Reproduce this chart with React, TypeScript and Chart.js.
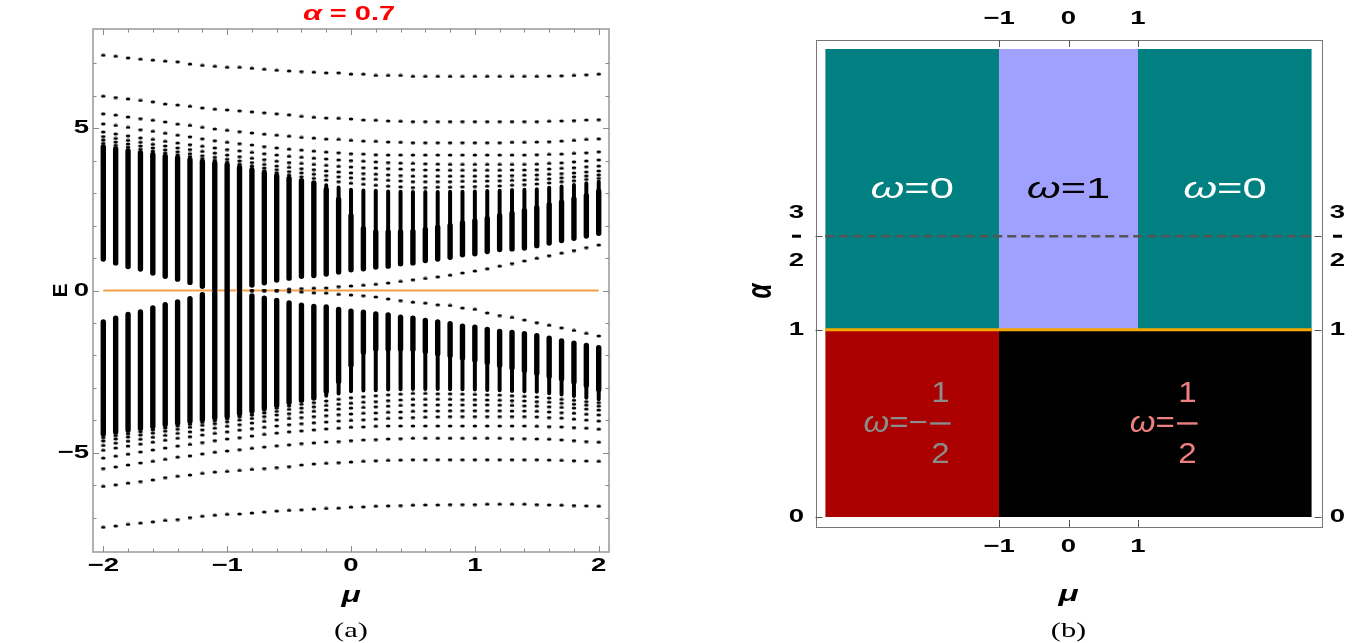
import React, { useEffect, useRef } from "react";
import { Chart, registerables } from "chart.js";

Chart.register(...registerables);

const SANS = "'Liberation Sans', Arial, sans-serif";
const SERIF = "'Liberation Serif', 'DejaVu Serif', serif";
const SX = 1.45; // the figure is horizontally stretched
const SX_FRAC = 1.1;

// ================= Panel (a): spectrum E vs mu, alpha = 0.7 =================
const MU = [-2.0, -1.9, -1.8, -1.7, -1.6, -1.5, -1.4, -1.3, -1.2, -1.1, -1.0, -0.9, -0.8, -0.7, -0.6, -0.5, -0.4, -0.3, -0.2, -0.1, 0.0, 0.1, 0.2, 0.3, 0.4, 0.5, 0.6, 0.7, 0.8, 0.9, 1.0, 1.1, 1.2, 1.3, 1.4, 1.5, 1.6, 1.7, 1.8, 1.9, 2.0];

// isolated levels above the upper band
const UP_1 = [7.24, 7.21, 7.16, 7.12, 7.09, 7.06, 7.04, 6.97, 6.93, 6.90, 6.87, 6.87, 6.84, 6.81, 6.78, 6.76, 6.74, 6.72, 6.70, 6.70, 6.66, 6.66, 6.62, 6.62, 6.62, 6.59, 6.59, 6.59, 6.59, 6.59, 6.59, 6.59, 6.59, 6.59, 6.59, 6.59, 6.60, 6.61, 6.62, 6.64, 6.66];
const UP_2 = [5.98, 5.94, 5.90, 5.85, 5.81, 5.74, 5.71, 5.67, 5.62, 5.58, 5.56, 5.53, 5.50, 5.47, 5.44, 5.41, 5.36, 5.33, 5.31, 5.30, 5.28, 5.25, 5.24, 5.22, 5.21, 5.20, 5.20, 5.20, 5.20, 5.20, 5.20, 5.20, 5.20, 5.20, 5.20, 5.20, 5.21, 5.22, 5.23, 5.25, 5.26];
const UP_3 = [5.44, 5.40, 5.34, 5.29, 5.24, 5.19, 5.12, 5.08, 5.02, 4.97, 4.93, 4.89, 4.85, 4.81, 4.78, 4.75, 4.71, 4.69, 4.66, 4.65, 4.62, 4.60, 4.59, 4.57, 4.56, 4.55, 4.55, 4.55, 4.55, 4.55, 4.55, 4.55, 4.55, 4.56, 4.56, 4.57, 4.58, 4.60, 4.62, 4.65, 4.67];
const UP_4 = [5.13, 5.08, 5.02, 4.95, 4.90, 4.84, 4.78, 4.73, 4.67, 4.61, 4.56, 4.52, 4.48, 4.43, 4.39, 4.35, 4.32, 4.29, 4.26, 4.24, 4.21, 4.20, 4.18, 4.17, 4.17, 4.17, 4.17, 4.17, 4.17, 4.17, 4.17, 4.17, 4.17, 4.17, 4.17, 4.18, 4.19, 4.20, 4.22, 4.24, 4.27];
const UP_5 = [4.88, 4.82, 4.76, 4.70, 4.65, 4.59, 4.54, 4.49, 4.44, 4.39, 4.34, 4.30, 4.25, 4.21, 4.17, 4.13, 4.10, 4.07, 4.05, 4.02, 4.00, 3.98, 3.96, 3.94, 3.92, 3.91, 3.90, 3.89, 3.88, 3.88, 3.88, 3.88, 3.88, 3.88, 3.88, 3.89, 3.91, 3.93, 3.96, 3.99, 4.02];
const UP_6 = [4.74, 4.68, 4.62, 4.56, 4.50, 4.45, 4.39, 4.34, 4.28, 4.23, 4.17, 4.12, 4.07, 4.03, 3.98, 3.94, 3.91, 3.88, 3.85, 3.82, 3.80, 3.78, 3.77, 3.75, 3.74, 3.72, 3.71, 3.71, 3.70, 3.70, 3.70, 3.70, 3.70, 3.71, 3.71, 3.72, 3.74, 3.76, 3.78, 3.81, 3.83];
const UP_7 = [4.63, 4.57, 4.51, 4.45, 4.39, 4.33, 4.27, 4.21, 4.15, 4.10, 4.04, 3.99, 3.94, 3.88, 3.83, 3.79, 3.75, 3.72, 3.68, 3.65, 3.62, 3.60, 3.58, 3.56, 3.54, 3.52, 3.52, 3.52, 3.52, 3.52, 3.52, 3.52, 3.53, 3.54, 3.55, 3.56, 3.58, 3.60, 3.62, 3.65, 3.68];
const UP_8 = [4.53, 4.47, 4.41, 4.35, 4.29, 4.23, 4.17, 4.12, 4.06, 4.01, 3.95, 3.89, 3.83, 3.77, 3.72, 3.66, 3.62, 3.58, 3.54, 3.50, 3.47, 3.44, 3.42, 3.39, 3.37, 3.35, 3.35, 3.35, 3.35, 3.36, 3.36, 3.37, 3.38, 3.39, 3.40, 3.42, 3.44, 3.47, 3.50, 3.53, 3.56];
const UP_9 = [4.46, 4.40, 4.34, 4.28, 4.22, 4.16, 4.11, 4.06, 4.00, 3.95, 3.90, 3.83, 3.76, 3.69, 3.62, 3.55, 3.50, 3.45, 3.40, 3.35, 3.30, 3.27, 3.24, 3.21, 3.19, 3.17, 3.17, 3.18, 3.18, 3.19, 3.20, 3.21, 3.22, 3.24, 3.26, 3.28, 3.31, 3.35, 3.38, 3.42, 3.45];
// upper band: dense top, top of its thick part, bottom edge
const UP_DENSE_TOP = [4.41, 4.35, 4.29, 4.23, 4.18, 4.12, 4.07, 4.02, 3.96, 3.91, 3.86, 3.78, 3.70, 3.62, 3.53, 3.45, 3.38, 3.31, 3.24, 3.17, 3.10, 3.08, 3.07, 3.05, 3.04, 3.03, 3.03, 3.03, 3.04, 3.04, 3.05, 3.06, 3.07, 3.09, 3.10, 3.12, 3.16, 3.20, 3.25, 3.30, 3.35];
const UP_THICK_TOP = [4.41, 4.35, 4.29, 4.23, 4.18, 4.12, 4.07, 4.02, 3.96, 3.91, 3.86, 3.78, 3.70, 3.62, 3.53, 3.45, 3.38, 3.31, 3.10, 2.80, 2.30, 1.90, 1.80, 1.80, 1.80, 1.82, 1.88, 1.95, 2.00, 2.08, 2.14, 2.22, 2.30, 2.38, 2.46, 2.55, 2.64, 2.72, 2.82, 2.92, 3.05];
const UP_EDGE = [0.97, 0.85, 0.74, 0.66, 0.54, 0.44, 0.35, 0.25, 0.13, 0.05, 0.00, 0.06, 0.17, 0.24, 0.32, 0.38, 0.44, 0.46, 0.51, 0.57, 0.64, 0.67, 0.72, 0.75, 0.82, 0.85, 0.92, 0.97, 1.02, 1.10, 1.13, 1.20, 1.26, 1.28, 1.31, 1.38, 1.46, 1.54, 1.61, 1.68, 1.76];
// in-gap (edge) states
const GAP_UP = [null, null, null, null, null, null, null, null, null, null, null, 0, 0, 0, 0, 0.04, 0.06, 0.07, 0.08, 0.12, 0.14, 0.16, 0.19, 0.23, 0.28, 0.33, 0.37, 0.42, 0.47, 0.54, 0.60, 0.67, 0.75, 0.83, 0.91, 0.99, 1.07, 1.15, 1.23, 1.32, 1.40];
const GAP_DN = [null, null, null, null, null, null, null, null, null, null, null, 0, 0, 0, 0, -0.04, -0.05, -0.07, -0.08, -0.12, -0.14, -0.16, -0.20, -0.26, -0.31, -0.36, -0.39, -0.44, -0.46, -0.54, -0.58, -0.69, -0.77, -0.83, -0.91, -0.99, -1.07, -1.15, -1.23, -1.32, -1.40];
// lower band
const DN_EDGE = [-0.97, -0.85, -0.74, -0.66, -0.54, -0.44, -0.35, -0.25, -0.13, -0.07, 0.00, -0.08, -0.17, -0.24, -0.31, -0.38, -0.45, -0.49, -0.51, -0.58, -0.64, -0.67, -0.72, -0.75, -0.82, -0.85, -0.92, -0.97, -1.02, -1.10, -1.13, -1.20, -1.26, -1.29, -1.33, -1.39, -1.47, -1.55, -1.62, -1.69, -1.76];
const DN_THICK_BOTTOM = [-4.41, -4.35, -4.29, -4.23, -4.18, -4.12, -4.07, -4.02, -3.96, -3.91, -3.86, -3.78, -3.70, -3.62, -3.53, -3.45, -3.38, -3.31, -3.10, -2.80, -2.30, -1.90, -1.80, -1.80, -1.80, -1.82, -1.88, -1.95, -2.00, -2.08, -2.14, -2.22, -2.30, -2.38, -2.46, -2.55, -2.64, -2.72, -2.82, -2.92, -3.05];
const DN_DENSE_BOTTOM = [-4.41, -4.35, -4.29, -4.23, -4.18, -4.12, -4.07, -4.02, -3.96, -3.91, -3.86, -3.78, -3.70, -3.62, -3.53, -3.45, -3.38, -3.31, -3.24, -3.17, -3.10, -3.08, -3.07, -3.05, -3.04, -3.03, -3.03, -3.03, -3.04, -3.04, -3.05, -3.06, -3.07, -3.09, -3.10, -3.12, -3.16, -3.20, -3.25, -3.30, -3.35];
// isolated levels below the lower band
const DN_9 = [-4.46, -4.40, -4.34, -4.28, -4.22, -4.16, -4.11, -4.06, -4.00, -3.95, -3.90, -3.83, -3.76, -3.69, -3.62, -3.55, -3.50, -3.45, -3.40, -3.35, -3.30, -3.27, -3.24, -3.21, -3.19, -3.17, -3.17, -3.18, -3.18, -3.19, -3.20, -3.21, -3.22, -3.24, -3.26, -3.28, -3.31, -3.35, -3.38, -3.42, -3.45];
const DN_8 = [-4.53, -4.47, -4.41, -4.35, -4.29, -4.23, -4.17, -4.12, -4.06, -4.01, -3.95, -3.89, -3.83, -3.77, -3.72, -3.66, -3.62, -3.58, -3.54, -3.50, -3.47, -3.44, -3.42, -3.39, -3.37, -3.35, -3.35, -3.35, -3.35, -3.36, -3.36, -3.37, -3.38, -3.39, -3.40, -3.42, -3.44, -3.47, -3.50, -3.53, -3.56];
const DN_7 = [-4.63, -4.57, -4.51, -4.45, -4.39, -4.33, -4.27, -4.21, -4.15, -4.10, -4.04, -3.99, -3.94, -3.88, -3.83, -3.79, -3.75, -3.72, -3.68, -3.65, -3.62, -3.60, -3.58, -3.56, -3.54, -3.52, -3.52, -3.52, -3.52, -3.52, -3.52, -3.52, -3.53, -3.54, -3.55, -3.56, -3.58, -3.60, -3.62, -3.65, -3.68];
const DN_6 = [-4.77, -4.70, -4.64, -4.58, -4.52, -4.46, -4.40, -4.35, -4.29, -4.24, -4.18, -4.13, -4.08, -4.03, -3.98, -3.94, -3.91, -3.88, -3.85, -3.82, -3.80, -3.78, -3.77, -3.75, -3.74, -3.72, -3.71, -3.71, -3.70, -3.70, -3.70, -3.70, -3.70, -3.71, -3.71, -3.72, -3.74, -3.76, -3.78, -3.81, -3.83];
const DN_5 = [-4.92, -4.85, -4.79, -4.73, -4.67, -4.61, -4.55, -4.50, -4.45, -4.40, -4.35, -4.30, -4.25, -4.21, -4.17, -4.13, -4.10, -4.07, -4.05, -4.02, -4.00, -3.98, -3.96, -3.94, -3.92, -3.91, -3.90, -3.89, -3.88, -3.88, -3.88, -3.88, -3.88, -3.88, -3.88, -3.89, -3.91, -3.93, -3.96, -3.99, -4.02];
const DN_4 = [-5.16, -5.10, -5.04, -4.97, -4.91, -4.85, -4.79, -4.74, -4.68, -4.62, -4.57, -4.53, -4.48, -4.43, -4.39, -4.35, -4.32, -4.29, -4.26, -4.24, -4.21, -4.20, -4.18, -4.17, -4.17, -4.17, -4.17, -4.17, -4.17, -4.17, -4.17, -4.17, -4.17, -4.17, -4.17, -4.18, -4.19, -4.20, -4.22, -4.24, -4.27];
const DN_3 = [-5.48, -5.43, -5.37, -5.31, -5.26, -5.20, -5.13, -5.09, -5.03, -4.98, -4.94, -4.90, -4.86, -4.82, -4.78, -4.75, -4.71, -4.69, -4.66, -4.65, -4.62, -4.60, -4.59, -4.57, -4.56, -4.55, -4.55, -4.55, -4.55, -4.55, -4.55, -4.55, -4.55, -4.56, -4.56, -4.57, -4.58, -4.60, -4.62, -4.65, -4.67];
const DN_2 = [-6.03, -5.98, -5.93, -5.88, -5.83, -5.76, -5.72, -5.68, -5.63, -5.59, -5.57, -5.54, -5.51, -5.48, -5.45, -5.42, -5.37, -5.34, -5.32, -5.30, -5.28, -5.26, -5.24, -5.23, -5.22, -5.21, -5.21, -5.21, -5.21, -5.21, -5.21, -5.21, -5.21, -5.21, -5.21, -5.21, -5.22, -5.23, -5.24, -5.25, -5.26];
const DN_1 = [-7.29, -7.25, -7.20, -7.16, -7.12, -7.08, -7.05, -6.99, -6.95, -6.92, -6.89, -6.88, -6.85, -6.82, -6.79, -6.77, -6.75, -6.73, -6.71, -6.70, -6.67, -6.66, -6.64, -6.63, -6.62, -6.61, -6.60, -6.60, -6.59, -6.59, -6.59, -6.58, -6.58, -6.58, -6.58, -6.59, -6.60, -6.61, -6.62, -6.63, -6.64];

const A_ZERO_LINE_MU = [-2, 2];
const A_X_TICKS = [-2, -1, 0, 1, 2];
const A_Y_TICKS = [-5, 0, 5];
const A_X_MINOR = [-2, -1.8, -1.6, -1.4, -1.2, -1, -0.8, -0.6, -0.4, -0.2, 0, 0.2, 0.4, 0.6, 0.8, 1, 1.2, 1.4, 1.6, 1.8, 2];
const A_Y_MINOR = [-7, -6, -5, -4, -3, -2, -1, 0, 1, 2, 3, 4, 5, 6, 7];

// ================= Panel (b): phase diagram =================
const B_MU_EDGES = [-3.5, -1, 1, 3.5];
const B_ALPHA_EDGES = [0, 1, 1.5, 2.5];
const B_X_TICKS = [-1, 0, 1];
const B_Y_TICKS = [0, 1, 1.5];
const B_LABEL_LOWER_RIGHT_MU = 1.37;

const TEAL = "#008080";
const LAVENDER = "#a0a0ff";
const DARKRED = "#aa0000";
const BLACK = "#000000";
const GOLD = "#f5a800";

const fmtTick = (v: number) => (v < 0 ? "\u2212" + Math.abs(v) : String(v));

function columnSegments(lo: (number | null)[], hi: (number | null)[]) {
  const pts: any[] = [];
  MU.forEach((m, i) => {
    const a = lo[i];
    const b = hi[i];
    if (a == null || b == null || Math.abs(b - a) < 0.01) return;
    pts.push({ x: m, y: a }, { x: m, y: b }, { x: m, y: null });
  });
  return pts;
}

function levelPoints(levels: (number | null)[][]) {
  const pts: any[] = [];
  levels.forEach((arr) => {
    MU.forEach((m, i) => {
      const v = arr[i];
      if (v != null) pts.push({ x: m, y: v });
    });
  });
  return pts;
}

// stretched text helpers
function sText(ctx: CanvasRenderingContext2D, t: string, font: string, x: number, y: number, align: CanvasTextAlign = "center") {
  ctx.save();
  ctx.translate(x, y);
  ctx.scale(SX, 1);
  ctx.font = font;
  ctx.textAlign = align;
  ctx.textBaseline = "middle";
  ctx.fillText(t, 0, 0);
  ctx.restore();
}

function sRuns(ctx: CanvasRenderingContext2D, runs: { t: string; f: string }[], cx: number, cy: number) {
  let total = 0;
  const widths = runs.map((r) => {
    ctx.font = r.f;
    const w = ctx.measureText(r.t).width;
    total += w;
    return w;
  });
  ctx.save();
  ctx.translate(cx, cy);
  ctx.scale(SX, 1);
  let x = -total / 2;
  ctx.textAlign = "left";
  ctx.textBaseline = "middle";
  runs.forEach((r, i) => {
    ctx.font = r.f;
    ctx.fillText(r.t, x, 0);
    x += widths[i];
  });
  ctx.restore();
}

const TICK_FONT = `bold 19px ${SANS}`;

const panelADecor = {
  id: "panelADecor",
  afterDraw(chart: any) {
    const { ctx, chartArea: a, scales } = chart;
    const sx = scales.x;
    const sy = scales.y;
    ctx.save();
    ctx.strokeStyle = "#9e9e9e";
    ctx.lineWidth = 1.6;
    ctx.strokeRect(a.left, a.top, a.right - a.left, a.bottom - a.top);
    ctx.lineWidth = 1;
    ctx.strokeStyle = "#8a8a8a";
    ctx.beginPath();
    A_X_MINOR.forEach((v) => {
      const px = Math.round(sx.getPixelForValue(v)) + 0.5;
      const len = Math.abs(v - Math.round(v)) < 1e-6 ? 6 : 3.5;
      ctx.moveTo(px, a.bottom);
      ctx.lineTo(px, a.bottom - len);
      ctx.moveTo(px, a.top);
      ctx.lineTo(px, a.top + len);
    });
    A_Y_MINOR.forEach((v) => {
      const py = Math.round(sy.getPixelForValue(v)) + 0.5;
      const len = v % 5 === 0 ? 6 : 3.5;
      ctx.moveTo(a.left, py);
      ctx.lineTo(a.left + len, py);
      ctx.moveTo(a.right, py);
      ctx.lineTo(a.right - len, py);
    });
    ctx.stroke();

    // tick labels
    ctx.fillStyle = "#000";
    A_X_TICKS.forEach((v) => sText(ctx, fmtTick(v), TICK_FONT, sx.getPixelForValue(v), a.bottom + 14));
    A_Y_TICKS.forEach((v) => sText(ctx, fmtTick(v), TICK_FONT, a.left - 4, sy.getPixelForValue(v), "right"));

    const cx = sx.getPixelForValue(0);
    // title
    ctx.fillStyle = "#ff0000";
    sRuns(
      ctx,
      [
        { t: "\u03b1", f: `italic bold 21px ${SANS}` },
        { t: " = 0.7", f: `bold 20px ${SANS}` },
      ],
      cx - 2,
      14
    );
    // axis titles
    ctx.fillStyle = "#000";
    ctx.save();
    ctx.translate(61, (a.top + a.bottom) / 2);
    ctx.rotate(-Math.PI / 2);
    ctx.font = `bold 21px ${SANS}`;
    ctx.textAlign = "center";
    ctx.textBaseline = "middle";
    ctx.fillText("E", 0, 0);
    ctx.restore();
    sText(ctx, "\u03bc", `italic bold 22px ${SANS}`, cx, 596);
    sText(ctx, "(a)", `21px ${SERIF}`, cx, 631);
    ctx.restore();
  },
};

function drawOmega(ctx: CanvasRenderingContext2D, cx: number, cy: number, rest: string, color: string) {
  ctx.fillStyle = color;
  sRuns(
    ctx,
    [
      { t: "\u03c9", f: `italic 30px ${SANS}` },
      { t: rest, f: `30px ${SANS}` },
    ],
    cx,
    cy
  );
}

function drawOmegaFrac(ctx: CanvasRenderingContext2D, cx: number, cy: number, sign: string, color: string) {
  const fOm = `italic 30px ${SANS}`;
  const fTx = `30px ${SANS}`;
  ctx.font = fOm;
  const w1 = ctx.measureText("\u03c9").width;
  ctx.font = fTx;
  const pre = "=" + sign;
  const w2 = ctx.measureText(pre).width;
  const wd = ctx.measureText("2").width;
  const wf = wd + 2;
  const total = w1 + w2 + 2 + wf;
  ctx.save();
  ctx.translate(cx, cy);
  ctx.scale(SX_FRAC, 1);
  ctx.fillStyle = color;
  ctx.strokeStyle = color;
  let x = -total / 2;
  ctx.textAlign = "left";
  ctx.textBaseline = "middle";
  ctx.font = fOm;
  ctx.fillText("\u03c9", x, 0);
  x += w1;
  ctx.font = fTx;
  ctx.fillText(pre, x, 0);
  x += w2 + 2;
  ctx.lineWidth = 2.4;
  ctx.beginPath();
  ctx.moveTo(x, 0);
  ctx.lineTo(x + wf, 0);
  ctx.stroke();
  ctx.textAlign = "center";
  ctx.fillText("1", x + wf / 2, -30);
  ctx.fillText("2", x + wf / 2, 31);
  ctx.restore();
}

function drawHalfFrac(ctx: CanvasRenderingContext2D, cx: number, cy: number) {
  sText(ctx, "3", TICK_FONT, cx, cy - 23);
  sText(ctx, "2", TICK_FONT, cx, cy + 25);
  ctx.fillRect(cx - 4.5, cy - 1.5, 9, 3);
}

const panelBDecor = {
  id: "panelBDecor",
  afterDraw(chart: any) {
    const { ctx, chartArea: a, scales } = chart;
    const sx = scales.x;
    const sy = scales.y;
    ctx.save();
    ctx.strokeStyle = "#777";
    ctx.lineWidth = 1;
    ctx.strokeRect(Math.round(a.left) + 0.5, Math.round(a.top) + 0.5, Math.round(a.right - a.left), Math.round(a.bottom - a.top));
    ctx.strokeStyle = "#555";
    ctx.beginPath();
    B_X_TICKS.forEach((v) => {
      const px = Math.round(sx.getPixelForValue(v)) + 0.5;
      ctx.moveTo(px, a.bottom);
      ctx.lineTo(px, a.bottom - 7);
      ctx.moveTo(px, a.top);
      ctx.lineTo(px, a.top + 7);
    });
    B_Y_TICKS.forEach((v) => {
      const py = Math.round(sy.getPixelForValue(v)) + 0.5;
      ctx.moveTo(a.left, py);
      ctx.lineTo(a.left + 7, py);
      ctx.moveTo(a.right, py);
      ctx.lineTo(a.right - 7, py);
    });
    ctx.stroke();

    // tick labels
    ctx.fillStyle = "#000";
    B_X_TICKS.forEach((v) => {
      const px = sx.getPixelForValue(v);
      sText(ctx, fmtTick(v), TICK_FONT, px, a.bottom + 20);
      sText(ctx, fmtTick(v), TICK_FONT, px, a.top - 21);
    });
    B_Y_TICKS.forEach((v) => {
      const py = sy.getPixelForValue(v);
      if (v === 1.5) {
        drawHalfFrac(ctx, a.left - 19, py);
        drawHalfFrac(ctx, a.right + 16, py);
      } else {
        sText(ctx, fmtTick(v), TICK_FONT, a.left - 19, py);
        sText(ctx, fmtTick(v), TICK_FONT, a.right + 16, py);
      }
    });

    // phase labels
    const midA = (B_ALPHA_EDGES[1] + B_ALPHA_EDGES[3]) / 2;
    const lowA = (B_ALPHA_EDGES[0] + B_ALPHA_EDGES[1]) / 2;
    const yTop = sy.getPixelForValue(midA);
    const yLow = sy.getPixelForValue(lowA);
    const xL = sx.getPixelForValue((B_MU_EDGES[0] + B_MU_EDGES[1]) / 2);
    const xM = sx.getPixelForValue((B_MU_EDGES[1] + B_MU_EDGES[2]) / 2);
    const xR = sx.getPixelForValue((B_MU_EDGES[2] + B_MU_EDGES[3]) / 2);
    const xLowR = sx.getPixelForValue(B_LABEL_LOWER_RIGHT_MU);
    drawOmega(ctx, xL, yTop, "=0", "#ffffff");
    drawOmega(ctx, xM, yTop, "=1", "#000000");
    drawOmega(ctx, xR, yTop, "=0", "#ffffff");
    drawOmegaFrac(ctx, xL - 5, yLow, "\u2212", "#8c8c8c");
    drawOmegaFrac(ctx, xLowR, yLow, "", "#f08080");

    // axis titles
    const cx = sx.getPixelForValue(0);
    ctx.fillStyle = "#000";
    ctx.save();
    ctx.translate(761, 291);
    ctx.scale(SX, 1);
    ctx.rotate(-Math.PI / 2);
    ctx.font = `italic bold 24px ${SANS}`;
    ctx.textAlign = "center";
    ctx.textBaseline = "middle";
    ctx.fillText("\u03b1", 0, 0);
    ctx.restore();
    sText(ctx, "\u03bc", `italic bold 23px ${SANS}`, cx, 595);
    sText(ctx, "(b)", `21px ${SERIF}`, cx, 631);
    ctx.restore();
  },
};

function makeDot() {
  const c = document.createElement("canvas");
  c.width = 6;
  c.height = 4;
  const g = c.getContext("2d") as CanvasRenderingContext2D;
  g.fillStyle = "#000";
  g.beginPath();
  g.ellipse(3, 2, 2.3, 1.6, 0, 0, Math.PI * 2);
  g.fill();
  return c;
}

function panelAConfig(): any {
  return {
    type: "scatter",
    data: {
      datasets: [
        {
          label: "levels",
          data: levelPoints([UP_1, UP_2, UP_3, UP_4, UP_5, UP_6, UP_7, UP_8, UP_9, GAP_UP, GAP_DN, DN_9, DN_8, DN_7, DN_6, DN_5, DN_4, DN_3, DN_2, DN_1]),
          pointStyle: makeDot(),
          pointRadius: 2,
          showLine: false,
        },
        {
          label: "bands-thick",
          data: [...columnSegments(UP_EDGE, UP_THICK_TOP), ...columnSegments(DN_EDGE, DN_THICK_BOTTOM)],
          showLine: true,
          spanGaps: false,
          borderColor: "#000",
          borderWidth: 5.4,
          borderCapStyle: "round",
          pointRadius: 0,
        },
        {
          label: "bands-narrow",
          data: [...columnSegments(UP_THICK_TOP, UP_DENSE_TOP), ...columnSegments(DN_THICK_BOTTOM, DN_DENSE_BOTTOM)],
          showLine: true,
          spanGaps: false,
          borderColor: "#000",
          borderWidth: 4,
          borderCapStyle: "round",
          pointRadius: 0,
        },
        {
          label: "zero",
          data: A_ZERO_LINE_MU.map((m) => ({ x: m, y: 0 })),
          showLine: true,
          borderColor: "#f6a04a",
          borderWidth: 2,
          pointRadius: 0,
        },
      ],
    },
    options: {
      responsive: false,
      animation: false,
      devicePixelRatio: 1,
      events: [],
      layout: { padding: { left: 0, right: 745, top: 29, bottom: 61 } },
      plugins: { legend: { display: false }, tooltip: { enabled: false }, title: { display: false } },
      scales: {
        x: {
          type: "linear",
          position: "bottom",
          min: -2.083,
          max: 2.083,
          grid: { display: false },
          border: { display: false },
          ticks: { display: false },
          afterFit: (s: any) => {
            s.height = 30;
          },
        },
        y: {
          type: "linear",
          position: "left",
          min: -8.05,
          max: 8.05,
          grid: { display: false },
          border: { display: false },
          ticks: { display: false },
          afterFit: (s: any) => {
            s.width = 93;
          },
        },
      },
    },
    plugins: [panelADecor],
  };
}

function panelBConfig(): any {
  const regions = [
    { mu: [B_MU_EDGES[0], B_MU_EDGES[1]], a: [B_ALPHA_EDGES[1], B_ALPHA_EDGES[3]], color: TEAL },
    { mu: [B_MU_EDGES[1], B_MU_EDGES[2]], a: [B_ALPHA_EDGES[1], B_ALPHA_EDGES[3]], color: LAVENDER },
    { mu: [B_MU_EDGES[2], B_MU_EDGES[3]], a: [B_ALPHA_EDGES[1], B_ALPHA_EDGES[3]], color: TEAL },
    { mu: [B_MU_EDGES[0], B_MU_EDGES[1]], a: [B_ALPHA_EDGES[0], B_ALPHA_EDGES[1]], color: DARKRED },
    { mu: [B_MU_EDGES[1], B_MU_EDGES[3]], a: [B_ALPHA_EDGES[0], B_ALPHA_EDGES[1]], color: BLACK },
  ];
  const regionSets = regions.map((r) => ({
    label: "region",
    data: [
      { x: r.mu[0], y: r.a[1] },
      { x: r.mu[1], y: r.a[1] },
    ],
    showLine: true,
    fill: { value: r.a[0] },
    backgroundColor: r.color,
    borderColor: "rgba(0,0,0,0)",
    borderWidth: 0,
    pointRadius: 0,
  }));
  return {
    type: "scatter",
    data: {
      datasets: [
        {
          label: "alpha=1",
          data: [
            { x: B_MU_EDGES[0], y: B_ALPHA_EDGES[1] },
            { x: B_MU_EDGES[3], y: B_ALPHA_EDGES[1] },
          ],
          showLine: true,
          borderColor: GOLD,
          borderWidth: 3,
          pointRadius: 0,
        },
        {
          label: "alpha=3/2",
          data: [
            { x: B_MU_EDGES[0], y: B_ALPHA_EDGES[2] },
            { x: B_MU_EDGES[3], y: B_ALPHA_EDGES[2] },
          ],
          showLine: true,
          borderColor: "#555555",
          borderWidth: 2.4,
          borderDash: [9, 5],
          pointRadius: 0,
        },
        ...regionSets,
      ],
    },
    options: {
      responsive: false,
      animation: false,
      devicePixelRatio: 1,
      events: [],
      layout: { padding: { left: 755.5, right: 32.5, top: 40, bottom: 86 } },
      plugins: { legend: { display: false }, tooltip: { enabled: false }, title: { display: false } },
      scales: {
        x: {
          type: "linear",
          position: "bottom",
          min: -3.64,
          max: 3.64,
          grid: { display: false },
          border: { display: false },
          ticks: { display: false },
          afterFit: (s: any) => {
            s.height = 30;
          },
        },
        y: {
          type: "linear",
          position: "left",
          min: -0.053,
          max: 2.548,
          grid: { display: false },
          border: { display: false },
          ticks: { display: false },
          afterFit: (s: any) => {
            s.width = 60;
          },
        },
      },
    },
    plugins: [panelBDecor],
  };
}

export default function App() {
  const leftRef = useRef<HTMLCanvasElement>(null);
  const rightRef = useRef<HTMLCanvasElement>(null);
  useEffect(() => {
    const c1 = new Chart(leftRef.current as HTMLCanvasElement, panelAConfig());
    const c2 = new Chart(rightRef.current as HTMLCanvasElement, panelBConfig());
    return () => {
      c1.destroy();
      c2.destroy();
    };
  }, []);
  const canvasStyle: React.CSSProperties = { position: "absolute", left: 0, top: 0, width: 1354, height: 643 };
  return (
    <div style={{ position: "fixed", left: 0, top: 0, width: 1354, height: 643, background: "#ffffff", overflow: "hidden" }}>
      <canvas ref={leftRef} width={1354} height={643} style={canvasStyle} />
      <canvas ref={rightRef} width={1354} height={643} style={canvasStyle} />
    </div>
  );
}
